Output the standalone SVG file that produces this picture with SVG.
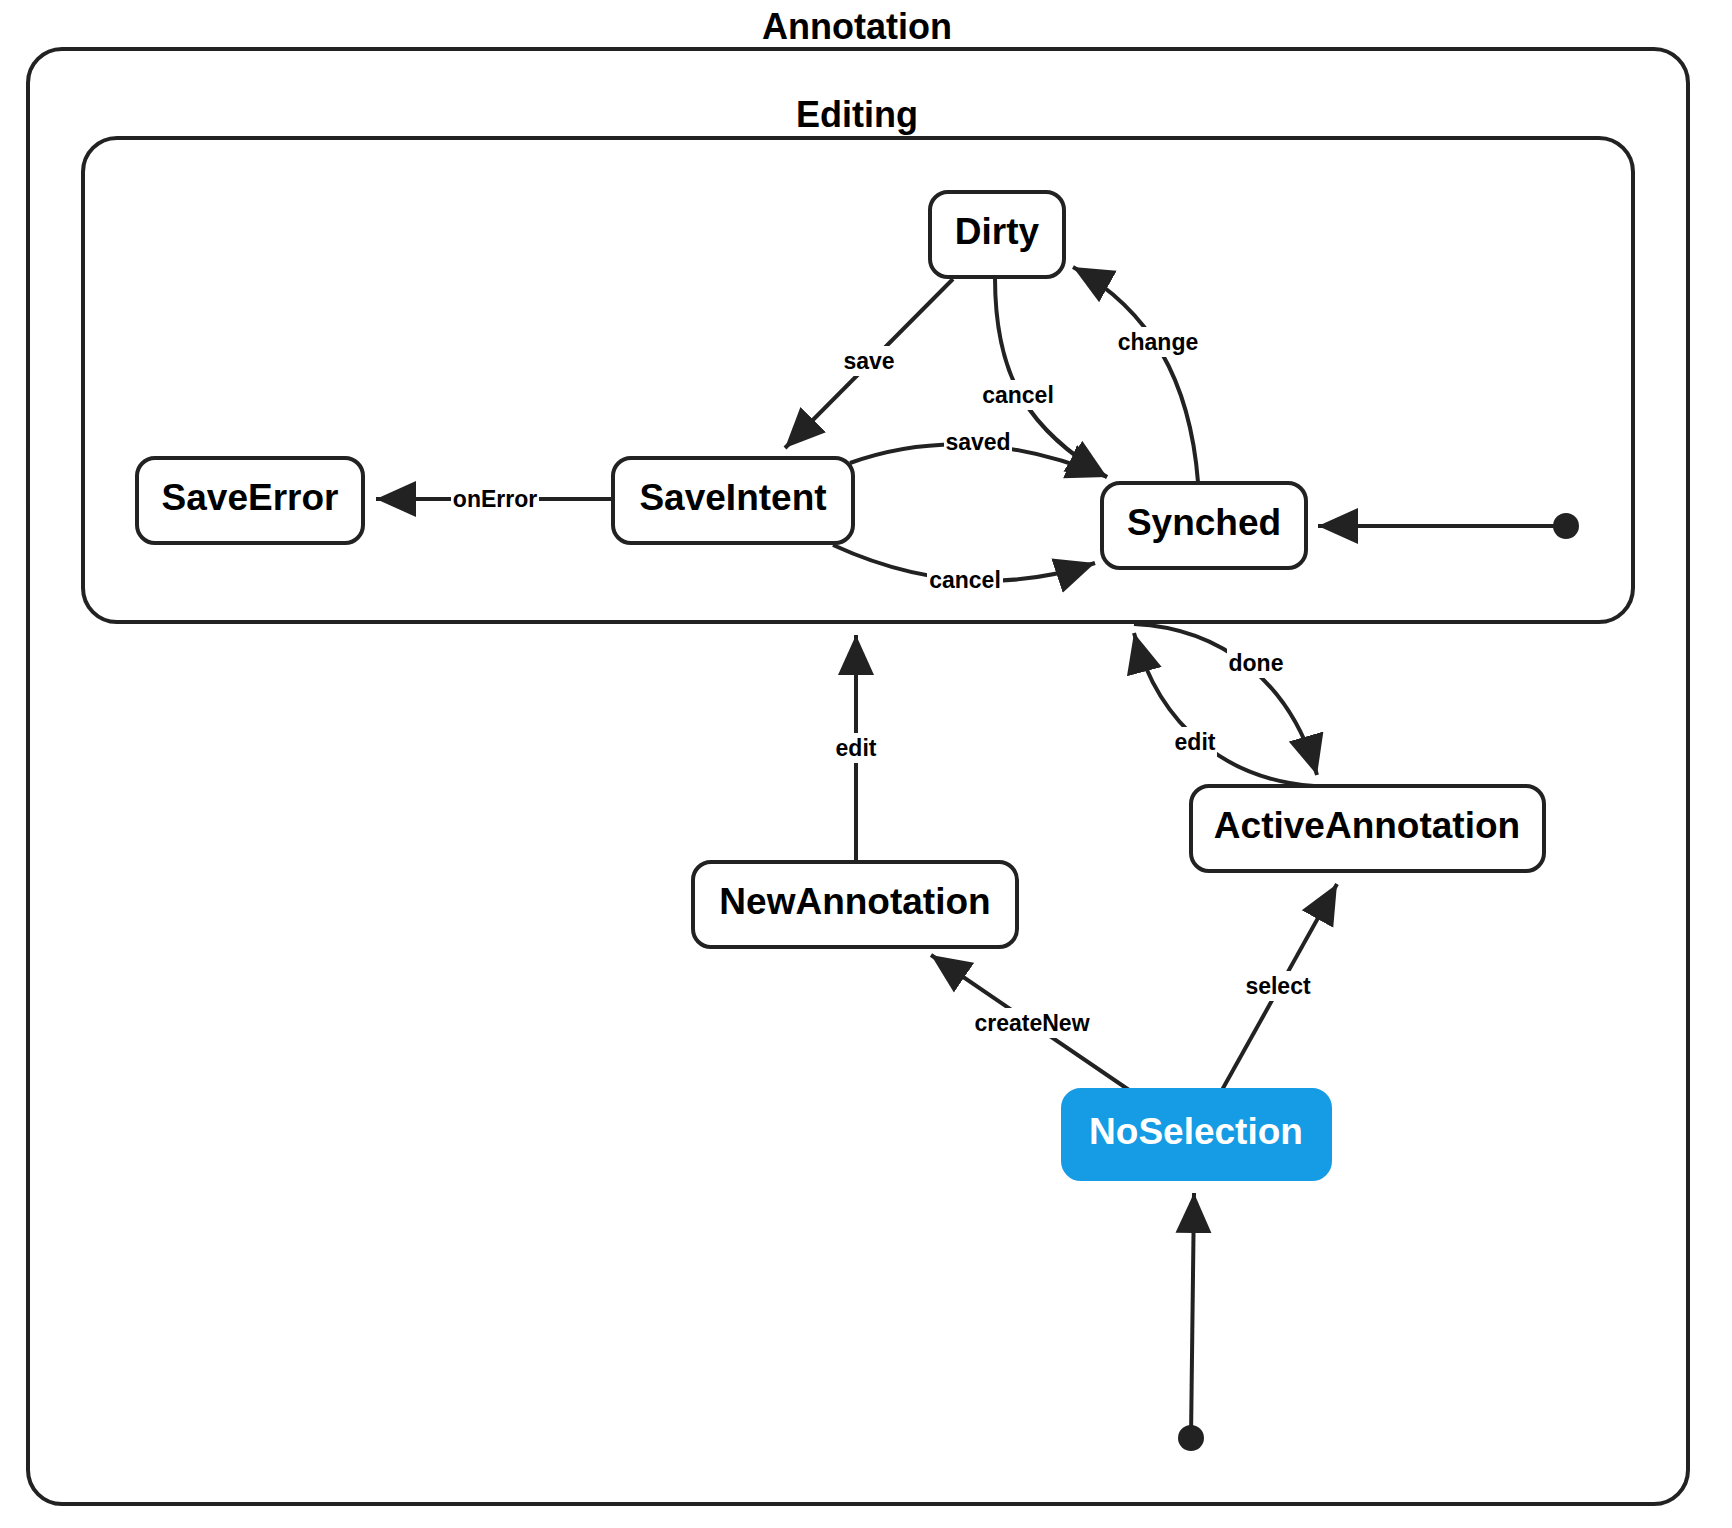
<svg xmlns="http://www.w3.org/2000/svg" width="1732" height="1528" viewBox="0 0 1732 1528">
<style>
.cluster{fill:#fff;stroke:#222;stroke-width:4}
.title{font-family:"Liberation Sans",Arial,sans-serif;font-weight:bold;font-size:36px;fill:#000;text-anchor:middle}
.node rect{fill:#fff;stroke:#222;stroke-width:4}
.node text{font-family:"Liberation Sans",Arial,sans-serif;font-weight:bold;font-size:37px;fill:#000;text-anchor:middle}
.active rect{fill:#159ce4;stroke:#159ce4}
.active text{fill:#fff}
.edge{fill:none;stroke:#222;stroke-width:4;marker-end:url(#arrow)}
.lbg{fill:#fff}
.lbl{font-family:"Liberation Sans",Arial,sans-serif;font-weight:bold;font-size:23px;fill:#000;text-anchor:middle}
.start{fill:#222}
</style>
<defs>
<marker id="arrow" markerUnits="userSpaceOnUse" markerWidth="42" markerHeight="40" refX="40" refY="20" orient="auto">
<path d="M0,2 L40,20 L0,38 z" fill="#222"/>
</marker>
</defs>
<rect width="1732" height="1528" fill="#fff"/>
<g id="Annotation">
<rect class="cluster" x="28" y="49" width="1660" height="1455" rx="34"/>
<text class="title" x="857" y="39">Annotation</text>
</g>
<g id="Editing">
<rect class="cluster" x="83" y="138" width="1550" height="484" rx="34"/>
<text class="title" x="857" y="127">Editing</text>
</g>
<g id="connectors">
<path class="edge" d="M953,279 L785,448"/>
<path class="edge" d="M995,278 C995,380 1030,430 1107,477"/>
<path class="edge" d="M850,463 Q970,420 1107,477"/>
<path class="edge" d="M833,545 Q966,606 1095,563"/>
<path class="edge" d="M1198,482 C1190,380 1150,310 1073,267"/>
<path class="edge" d="M613,499 L376,499"/>
<path class="edge" d="M1566,526 L1318,526"/>
<path class="edge" d="M1134,624 C1220,628 1290,680 1317,775"/>
<path class="edge" d="M1314,786 C1230,780 1160,730 1134,633"/>
<path class="edge" d="M856,862 L856,635"/>
<path class="edge" d="M1129,1090 L931,955"/>
<path class="edge" d="M1222,1090 L1337,884"/>
<path class="edge" d="M1191,1438 L1194,1193"/>
<circle class="start" cx="1566" cy="526" r="13"/>
<circle class="start" cx="1191" cy="1438" r="13"/>
<g>
<rect class="lbg" x="841" y="346" width="56" height="30"/><text class="lbl" x="869" y="369">save</text>
<rect class="lbg" x="980" y="380" width="76" height="30"/><text class="lbl" x="1018" y="403">cancel</text>
<rect class="lbg" x="944" y="428" width="68" height="28"/><text class="lbl" x="978" y="450">saved</text>
<rect class="lbg" x="927" y="565" width="76" height="30"/><text class="lbl" x="965" y="588">cancel</text>
<rect class="lbg" x="1116" y="327" width="84" height="30"/><text class="lbl" x="1158" y="350">change</text>
<rect class="lbg" x="451" y="484" width="88" height="30"/><text class="lbl" x="495" y="507">onError</text>
<rect class="lbg" x="1227" y="648" width="58" height="30"/><text class="lbl" x="1256" y="671">done</text>
<rect class="lbg" x="1173" y="727" width="44" height="30"/><text class="lbl" x="1195" y="750">edit</text>
<rect class="lbg" x="834" y="733" width="44" height="30"/><text class="lbl" x="856" y="756">edit</text>
<rect class="lbg" x="973" y="1008" width="118" height="30"/><text class="lbl" x="1032" y="1031">createNew</text>
<rect class="lbg" x="1245" y="971" width="66" height="30"/><text class="lbl" x="1278" y="994">select</text>
</g>
</g>
<g id="Dirty" class="node"><rect x="930" y="192" width="134" height="85" rx="18"/><text x="997" y="244">Dirty</text></g>
<g id="SaveError" class="node"><rect x="137" y="458" width="226" height="85" rx="18"/><text x="250" y="510">SaveError</text></g>
<g id="SaveIntent" class="node"><rect x="613" y="458" width="240" height="85" rx="18"/><text x="733" y="510">SaveIntent</text></g>
<g id="Synched" class="node"><rect x="1102" y="483" width="204" height="85" rx="18"/><text x="1204" y="535">Synched</text></g>
<g id="ActiveAnnotation" class="node"><rect x="1191" y="786" width="353" height="85" rx="18"/><text x="1367" y="838">ActiveAnnotation</text></g>
<g id="NewAnnotation" class="node"><rect x="693" y="862" width="324" height="85" rx="18"/><text x="855" y="914">NewAnnotation</text></g>
<g id="NoSelection" class="node active"><rect x="1063" y="1090" width="267" height="89" rx="18"/><text x="1196" y="1144">NoSelection</text></g>
</svg>
